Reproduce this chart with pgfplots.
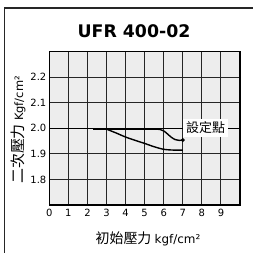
\documentclass[border=0pt]{standalone}
\usepackage{fontspec}
\setmainfont{DejaVu Sans}
\newfontfamily\cjk{Noto Sans CJK TC}
\usepackage{pgfplots}
\pgfplotsset{compat=1.18}
\begin{document}
\begin{tikzpicture}[x=1bp,y=1bp]
\path[use as bounding box] (0,0) rectangle (253,253);
\fill[white] (0,0) rectangle (253,253);
\draw[line width=1.1bp,black!85] (4.5,0) -- (4.5,245) -- (253,245);
\begin{axis}[
  scale only axis, width=190.7bp, height=153.3bp,
  at={(49.3bp,48bp)}, anchor=south west,
  xmin=0, xmax=10, ymin=1.7, ymax=2.3,
  xtick={0,1,...,9}, ytick={1.8,1.9,2.0,2.1,2.2},
  yticklabels={1.8,1.9,2.0,2.1,2.2},
  major tick length=0pt,
  grid=major,
  major grid style={black!85, line width=0.9bp},
  axis background/.style={fill=black!7},
  axis line style={black, line width=1.3bp},
  /pgf/number format/assume math mode=true,
  xticklabel style={font=\fontsize{10}{11}\selectfont, yshift=-0.5bp},
  yticklabel style={font=\fontsize{10}{11}\selectfont, xshift=0.5bp},
  clip=false,
]
\addplot[black, line width=1.4bp] coordinates {(0,2.0) (10,2.0)};
\node[fill=white, inner xsep=3bp, inner ysep=3bp, font=\cjk\fontsize{13}{14}\selectfont] at (axis cs:8.2,2.003) {設定點};
\addplot[black, line width=1.4bp, smooth, tension=0.5] coordinates {
(2.3,1.997) (3,1.997) (4,1.997) (5,1.997) (5.8,1.996) (6.0,1.99) (6.2,1.978) (6.4,1.965) (6.6,1.956) (6.8,1.953) (7.0,1.954)};
\addplot[black, line width=1.4bp, smooth, tension=0.5] coordinates {
(3.0,1.997) (3.5,1.982) (4.0,1.966) (4.5,1.953) (5.0,1.941) (5.5,1.928) (6.0,1.918) (6.5,1.915) (7.0,1.915)};
\addplot[black, only marks, mark=*, mark size=1.8bp] coordinates {(7.0,1.954)};
\end{axis}
\node[font=\bfseries\fontsize{17.4}{18}\selectfont] at (134,221.5) {UFR 400-02};
\node at (148,14) {{\cjk\fontsize{14}{15}\selectfont 初始壓力} \fontsize{12}{13}\selectfont kgf/cm²};
\node[rotate=90] at (18,123) {{\cjk\fontsize{15}{16}\selectfont 二次壓力} \fontsize{11.5}{13}\selectfont Kgf/cm²};
\end{tikzpicture}
\end{document}
